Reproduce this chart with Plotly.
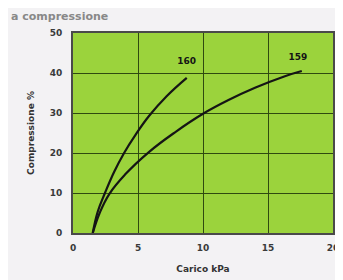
import plotly.graph_objects as go

x160 = [1.52, 1.9, 2.46, 3.17, 3.93, 4.82, 5.86, 7.2, 8.75]
y160 = [0, 5.3, 10, 15.3, 20, 24.6, 29.3, 34.2, 38.8]
x159 = [1.52, 2.05, 2.8, 4.0, 5.86, 7.9, 10.0, 12.0, 14.0, 16.3, 17.6]
y159 = [0, 5.0, 9.8, 14.6, 20.3, 25.3, 29.8, 33.3, 36.3, 39.2, 40.5]
labels = ["160", "159"]
label_x = [8.75, 17.3]
label_y = [42.8, 43.9]

fig = go.Figure()
for xs, ys in [(x160, y160), (x159, y159)]:
    fig.add_trace(go.Scatter(x=xs, y=ys, mode="lines",
                             line=dict(color="#151515", width=2.2, shape="spline", smoothing=1.2),
                             showlegend=False, hoverinfo="skip"))
fig.add_trace(go.Scatter(x=label_x, y=label_y, mode="text", text=["<b>%s</b>" % t for t in labels],
                         textfont=dict(family="DejaVu Sans", size=9, color="#151515"),
                         showlegend=False, hoverinfo="skip"))

tickfont = dict(family="DejaVu Sans", size=9, color="#3a3a3a", weight="bold")
fig.update_layout(
    width=343, height=280,
    margin=dict(l=65, r=15, t=25, b=55),
    paper_bgcolor="#f3f2f4",
    plot_bgcolor="#9bd33c",
    xaxis=dict(range=[0, 20], tickvals=[0, 5, 10, 15, 20], showgrid=True,
               gridcolor="#2f4a10", gridwidth=1, zeroline=False,
               showline=True, linecolor="#4a4a4a", linewidth=2, mirror=True,
               ticks="", tickfont=tickfont, ticklabelstandoff=5,
               title=dict(text="<b>Carico kPa</b>", font=dict(family="DejaVu Sans", size=9, color="#333333"), standoff=14)),
    yaxis=dict(range=[0, 50], tickvals=[0, 10, 20, 30, 40, 50], showgrid=True,
               gridcolor="#2f4a10", gridwidth=1, zeroline=False,
               showline=True, linecolor="#4a4a4a", linewidth=2, mirror=True,
               ticks="", tickfont=tickfont, ticklabelstandoff=7,
               title=dict(text="<b>Compressione %</b>", font=dict(family="DejaVu Sans", size=9, color="#333333"), standoff=14)),
    annotations=[dict(text="<b>a compressione</b>", xref="paper", yref="paper",
                      x=-65/263, y=1 + 25/200, xanchor="left", yanchor="top",
                      showarrow=False,
                      font=dict(family="DejaVu Sans", size=11, color="#888888"))],
)
fig.write_html("out.html")
